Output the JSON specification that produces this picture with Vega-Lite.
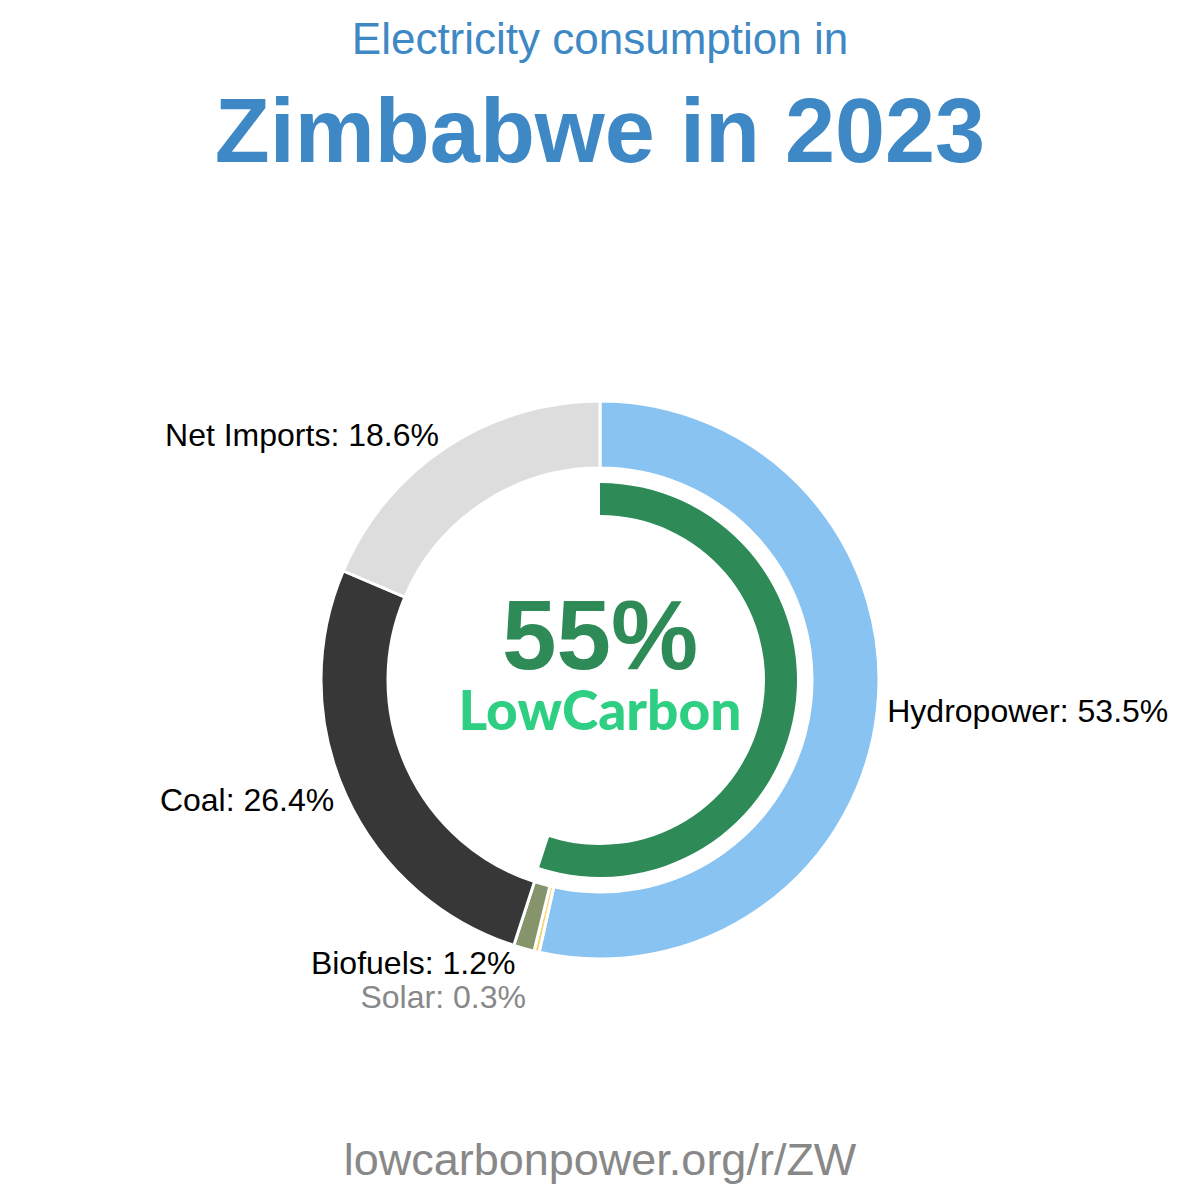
{
  "$schema": "https://vega.github.io/schema/vega-lite/v6.json",
  "width": 1200,
  "height": 960,
  "autosize": "none",
  "padding": {"top": 200, "left": 0, "right": 0, "bottom": 40},
  "background": "white",
  "config": {"view": {"stroke": null}, "font": "Liberation Sans"},
  "title": {
    "text": "Electricity consumption in",
    "subtitle": "Zimbabwe in 2023",
    "font": "Liberation Sans",
    "subtitleFont": "Liberation Sans",
    "fontSize": 44,
    "fontWeight": "normal",
    "color": "#3d88c5",
    "subtitleFontSize": 90,
    "subtitleFontWeight": "bold",
    "subtitleColor": "#3d88c5",
    "anchor": "middle",
    "offset": 20,
    "subtitlePadding": 28
  },
  "datasets": {
    "mix": [
      {"source": "Hydropower", "value": 53.5, "order": 1, "label": "Hydropower: 53.5%"},
      {"source": "Solar", "value": 0.3, "order": 2, "label": "Solar: 0.3%"},
      {"source": "Biofuels", "value": 1.2, "order": 3, "label": "Biofuels: 1.2%"},
      {"source": "Coal", "value": 26.4, "order": 4, "label": "Coal: 26.4%"},
      {"source": "Net Imports", "value": 18.6, "order": 5, "label": "Net Imports: 18.6%"}
    ],
    "lowcarbon": [
      {"part": "Low carbon", "value": 55, "order": 1},
      {"part": "Other", "value": 45, "order": 2}
    ]
  },
  "layer": [
    {
      "data": {"name": "mix"},
      "mark": {"type": "arc", "outerRadius": 279, "innerRadius": 212, "stroke": "white", "strokeWidth": 3},
      "encoding": {
        "theta": {"field": "value", "type": "quantitative", "stack": true},
        "order": {"field": "order", "type": "quantitative"},
        "color": {
          "field": "source",
          "type": "nominal",
          "scale": {
            "domain": ["Hydropower", "Solar", "Biofuels", "Coal", "Net Imports"],
            "range": ["#89c3f2", "#f7d36a", "#86946c", "#373737", "#dddddd"]
          },
          "legend": null
        }
      }
    },
    {
      "data": {"name": "lowcarbon"},
      "mark": {"type": "arc", "outerRadius": 197, "innerRadius": 165, "color": "#2e8b57"},
      "encoding": {
        "theta": {"field": "value", "type": "quantitative", "stack": true},
        "order": {"field": "order", "type": "quantitative"},
        "opacity": {"condition": {"test": "datum.part === 'Low carbon'", "value": 1}, "value": 0}
      }
    },
    {
      "data": {"name": "mix"},
      "mark": {"type": "text", "radius": 289, "align": "left", "baseline": "middle", "fontSize": 32, "color": "black"},
      "encoding": {
        "theta": {"field": "value", "type": "quantitative", "stack": true},
        "order": {"field": "order", "type": "quantitative"},
        "text": {"condition": {"test": "datum.source === 'Hydropower'", "field": "label", "type": "nominal"}, "value": ""}
      }
    },
    {
      "data": {"name": "mix"},
      "mark": {"type": "text", "radius": 292, "align": "right", "baseline": "middle", "fontSize": 32, "color": "black"},
      "encoding": {
        "theta": {"field": "value", "type": "quantitative", "stack": true},
        "order": {"field": "order", "type": "quantitative"},
        "text": {"condition": {"test": "datum.source === 'Coal' || datum.source === 'Net Imports'", "field": "label", "type": "nominal"}, "value": ""}
      }
    },
    {
      "data": {"name": "mix"},
      "mark": {"type": "text", "radius": 295, "align": "right", "baseline": "middle", "fontSize": 32, "color": "black", "dx": -4, "dy": 0},
      "encoding": {
        "theta": {"field": "value", "type": "quantitative", "stack": true},
        "order": {"field": "order", "type": "quantitative"},
        "text": {"condition": {"test": "datum.source === 'Biofuels'", "field": "label", "type": "nominal"}, "value": ""}
      }
    },
    {
      "data": {"name": "mix"},
      "mark": {"type": "text", "radius": 326, "align": "right", "baseline": "middle", "fontSize": 32, "color": "#888888", "dy": 1},
      "encoding": {
        "theta": {"field": "value", "type": "quantitative", "stack": true},
        "order": {"field": "order", "type": "quantitative"},
        "text": {"condition": {"test": "datum.source === 'Solar'", "field": "label", "type": "nominal"}, "value": ""}
      }
    },
    {
      "data": {"values": [{"t": "55%"}]},
      "mark": {"type": "text", "fontSize": 98, "fontWeight": "bold", "color": "#2e8b57", "baseline": "middle", "dy": -40},
      "encoding": {"text": {"field": "t", "type": "nominal"}}
    },
    {
      "data": {"values": [{"t": "LowCarbon"}]},
      "mark": {"type": "text", "font": "Lato", "fontSize": 55, "fontWeight": 900, "color": "#2ecf82", "baseline": "middle", "dy": 33},
      "encoding": {"text": {"field": "t", "type": "nominal"}}
    },
    {
      "data": {"values": [{"t": "lowcarbonpower.org/r/ZW"}]},
      "mark": {"type": "text", "fontSize": 45, "color": "#888888", "baseline": "middle", "dy": 481},
      "encoding": {"text": {"field": "t", "type": "nominal"}}
    }
  ]
}
